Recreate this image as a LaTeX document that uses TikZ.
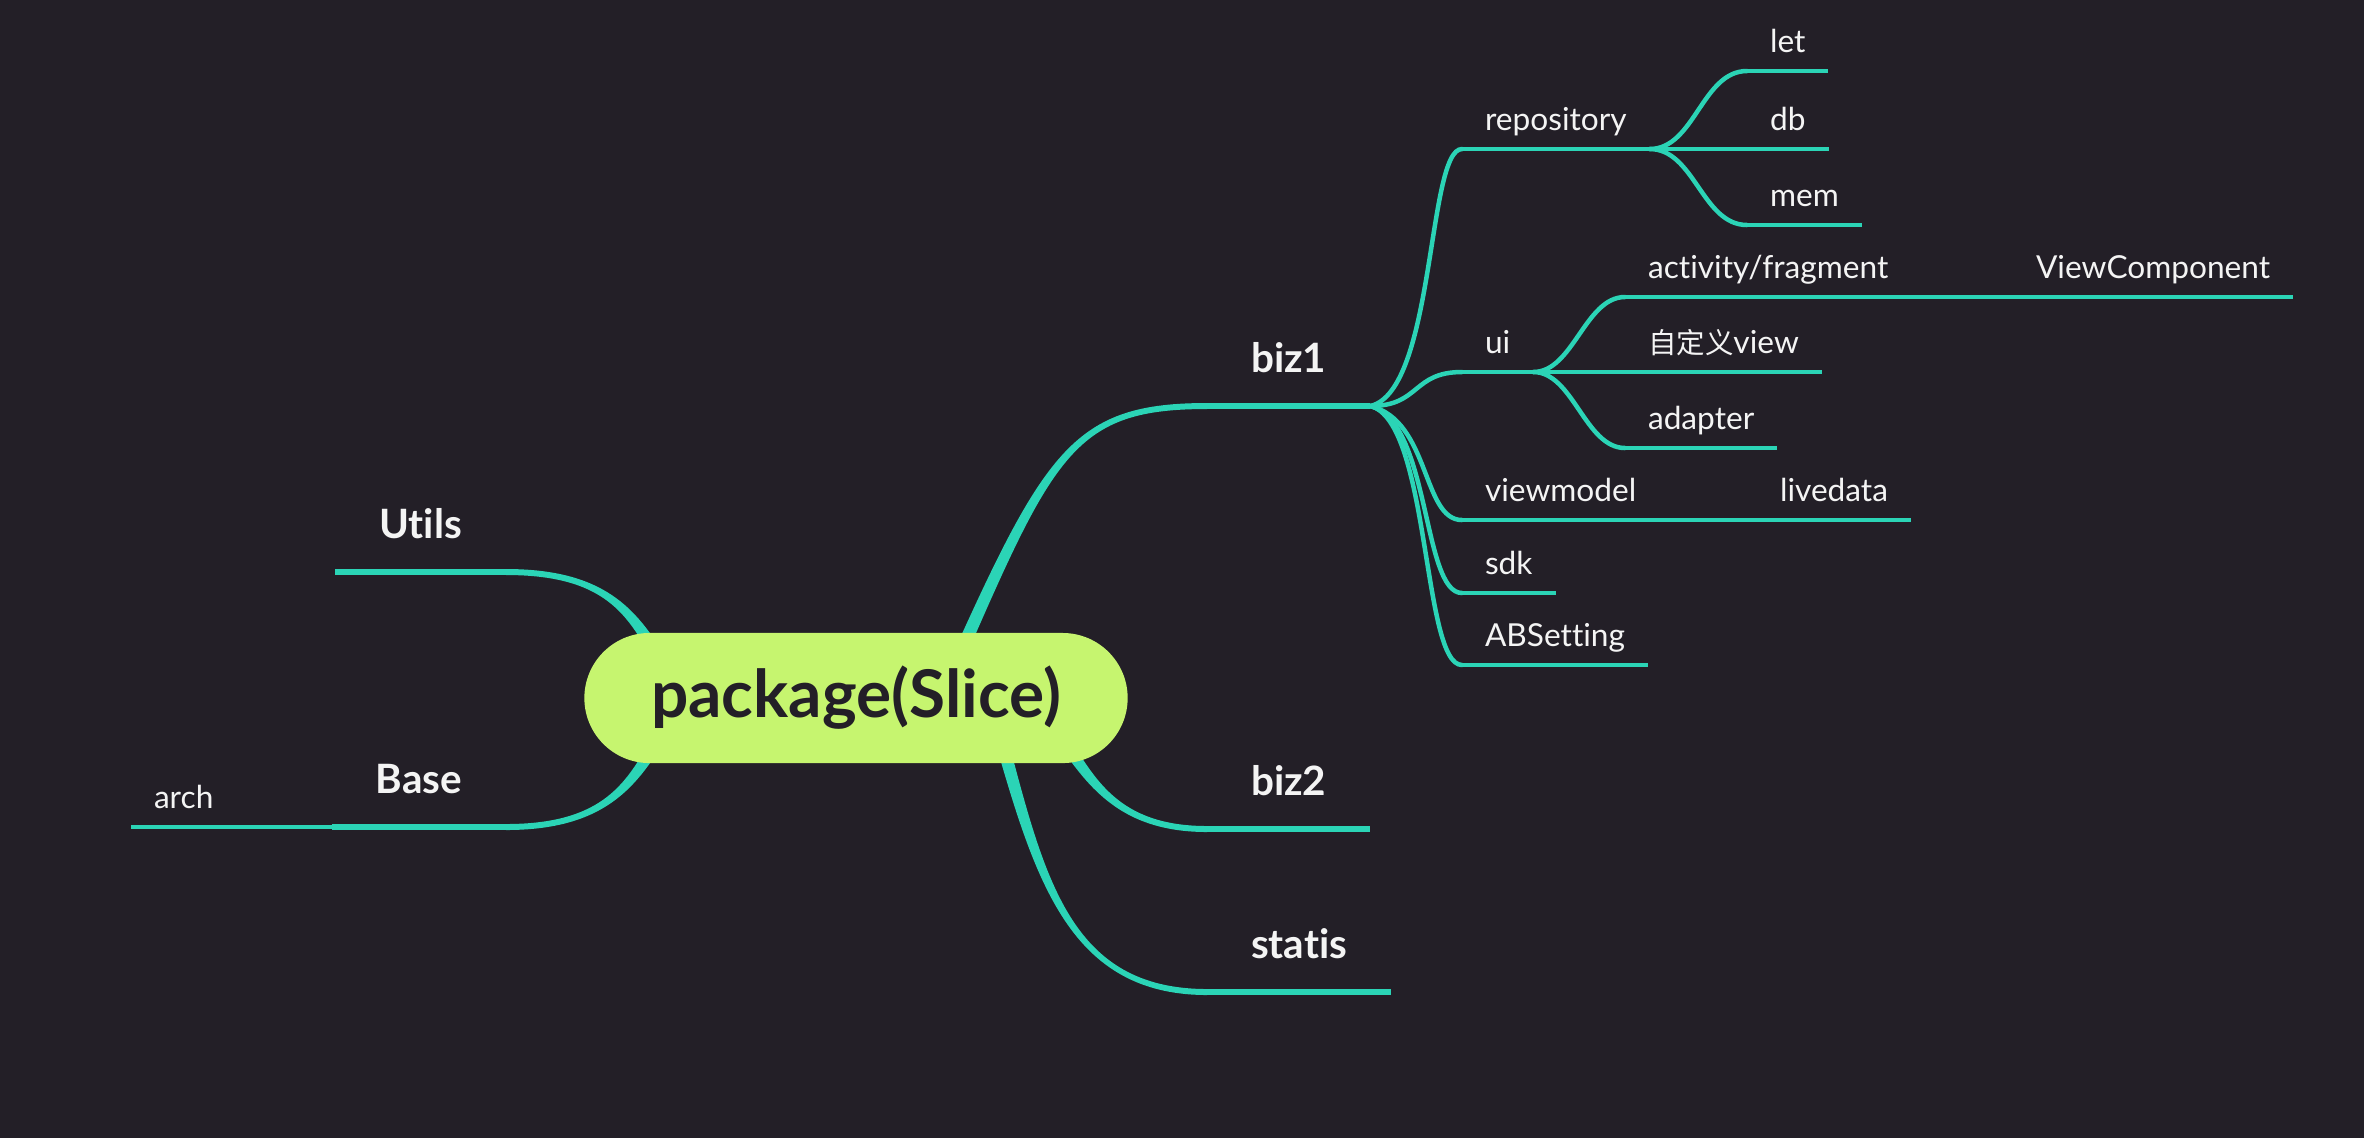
\documentclass[tikz,border=0pt]{standalone}
\usepackage{fontspec}
\setmainfont[Ligatures={NoCommon,NoRequired}]{Lato}
\newfontfamily\cjk[Scale=0.9]{Noto Sans CJK SC}
\usetikzlibrary{positioning,calc}
\definecolor{bgcol}{HTML}{231F27}
\definecolor{linecol}{HTML}{2BD4B6}
\definecolor{rootcol}{HTML}{C6F56F}
\definecolor{rootfg}{HTML}{231F27}
\definecolor{txtcol}{HTML}{F4F4F4}
\pgfdeclarelayer{back}
\pgfdeclarelayer{links}
\pgfsetlayers{back,links,main}
% tapered branch: box point, control, control, topic anchor
\newcommand\branch[4]{%
  \path (#1) coordinate (b0) (#2) coordinate (b1) (#3) coordinate (b2) (#4) coordinate (b3);
  \fill[linecol] ($(b0)!0.065cm!90:(b1)$) .. controls ($(b1)!0.05cm!-90:(b0)$) and ($(b2)!0.03cm!90:(b3)$) .. ($(b3)!0.03cm!-90:(b2)$)
    -- ($(b3)!0.03cm!90:(b2)$) .. controls ($(b2)!0.03cm!-90:(b3)$) and ($(b1)!0.05cm!90:(b0)$) .. ($(b0)!0.065cm!-90:(b1)$) -- cycle;}

\begin{document}
\begin{tikzpicture}[x=0.01cm, y=-0.01cm,
  root/.style={fill=rootcol, text=rootfg, rounded corners=0.65cm, minimum width=5.43cm, minimum height=1.3cm, font=\fontsize{18.7}{22}\selectfont\bfseries},
  topic/.style={text=txtcol, outer sep=0pt, text depth=0pt,
    append after command={(\tikzlastnode.south west) edge[draw=linecol, line width=#1] (\tikzlastnode.south east)}},
  main/.style={topic=0.06cm, font=\fontsize{11.5}{14}\selectfont\bfseries, inner xsep=0.44cm, inner ysep=0.34cm},
  sub/.style={topic=0.045cm, font=\fontsize{9}{11}\selectfont, inner xsep=0.23cm, inner ysep=0.19cm},
  twig/.style={draw=linecol, line width=0.045cm, line cap=round}
]
  \begin{pgfonlayer}{back}
    \fill[bgcol] (0,0) rectangle (2364,1138);
  \end{pgfonlayer}
  \useasboundingbox (0,0) rectangle (2364,1138);

  % root
  \node[root] (pkg) at (856,698) {package(Slice)};

  % left side
  \node[main, anchor=south east] (utils) at (506,572) {Utils};
  \node[main, anchor=south east] (base) at (506,827) {Base};
  \node[sub, anchor=south west] (arch) at (131,827) {arch};

  % right side
  \node[main, anchor=south west] (biz1) at (1207,406) {biz1};
  \node[main, anchor=south west] (biz2) at (1207,829) {biz2};
  \node[main, anchor=south west] (statis) at (1207,992) {statis};

  % biz1
  \node[sub, anchor=south west] (repo) at (1462,149) {repository};
  \node[sub, anchor=south west] (ui) at (1462,372) {ui};
  \node[sub, anchor=south west] (vm) at (1462,520) {viewmodel};
  \node[sub, anchor=south west] (sdk) at (1462,593) {sdk};
  \node[sub, anchor=south west] (ab) at (1462,665) {ABSetting};

  % repository
  \node[sub, anchor=south west] (let) at (1747,71) {let};
  \node[sub, anchor=south west] (db) at (1747,149) {db};
  \node[sub, anchor=south west] (mem) at (1747,225) {mem};

  % ui
  \node[sub, anchor=south west] (act) at (1625,297) {activity/fragment};
  \node[sub, anchor=south west] (cview) at (1625,372) {{\cjk 自定义}view};
  \node[sub, anchor=south west] (adapter) at (1625,448) {adapter};
  \node[sub, anchor=south west] (vcomp) at (2013,297) {ViewComponent};
  \node[sub, anchor=south west] (live) at (1757,520) {livedata};

  \begin{pgfonlayer}{links}
    % main branches
    \branch{$(pkg.center)+(-196,-38)$}{$(pkg.center)+(-224,-86)$}{$(utils.south east)+(99,0)$}{utils.south east}
    \branch{$(pkg.center)+(-196,38)$}{$(pkg.center)+(-224,86)$}{$(base.south east)+(99,0)$}{base.south east}
    \branch{$(pkg.center)+(99,-33)$}{$(pkg.center)+(194,-248)$}{$(biz1.south west)+(-132,0)$}{biz1.south west}
    \branch{$(pkg.center)+(204,37)$}{$(pkg.center)+(234,82)$}{$(biz2.south west)+(-90,0)$}{biz2.south west}
    \branch{$(pkg.center)+(144,37)$}{$(pkg.center)+(184,182)$}{$(statis.south west)+(-137,0)$}{statis.south west}
    \draw[twig] (arch.south east) -- (base.south west);

    % biz1 branches
    \draw[twig] (biz1.south east) .. controls +(65,-15) and +(-35,0) .. (repo.south west);
    \draw[twig] (biz1.south east) .. controls +(50,0) and +(-50,0) .. (ui.south west);
    \draw[twig] (biz1.south east) .. controls +(60,15) and +(-40,0) .. (vm.south west);
    \draw[twig] (biz1.south east) .. controls +(60,15) and +(-40,0) .. (sdk.south west);
    \draw[twig] (biz1.south east) .. controls +(60,15) and +(-40,0) .. (ab.south west);

    % repository branches
    \draw[twig] (repo.south east) .. controls +(45,0) and +(-45,0) .. (let.south west);
    \draw[twig] (repo.south east) -- (db.south west);
    \draw[twig] (repo.south east) .. controls +(45,0) and +(-45,0) .. (mem.south west);

    % ui branches
    \draw[twig] (ui.south east) .. controls +(40,0) and +(-40,0) .. (act.south west);
    \draw[twig] (ui.south east) -- (cview.south west);
    \draw[twig] (ui.south east) .. controls +(40,0) and +(-40,0) .. (adapter.south west);
    \draw[twig] (act.south east) -- (vcomp.south west);
    \draw[twig] (vm.south east) -- (live.south west);
  \end{pgfonlayer}
\end{tikzpicture}
\end{document}
